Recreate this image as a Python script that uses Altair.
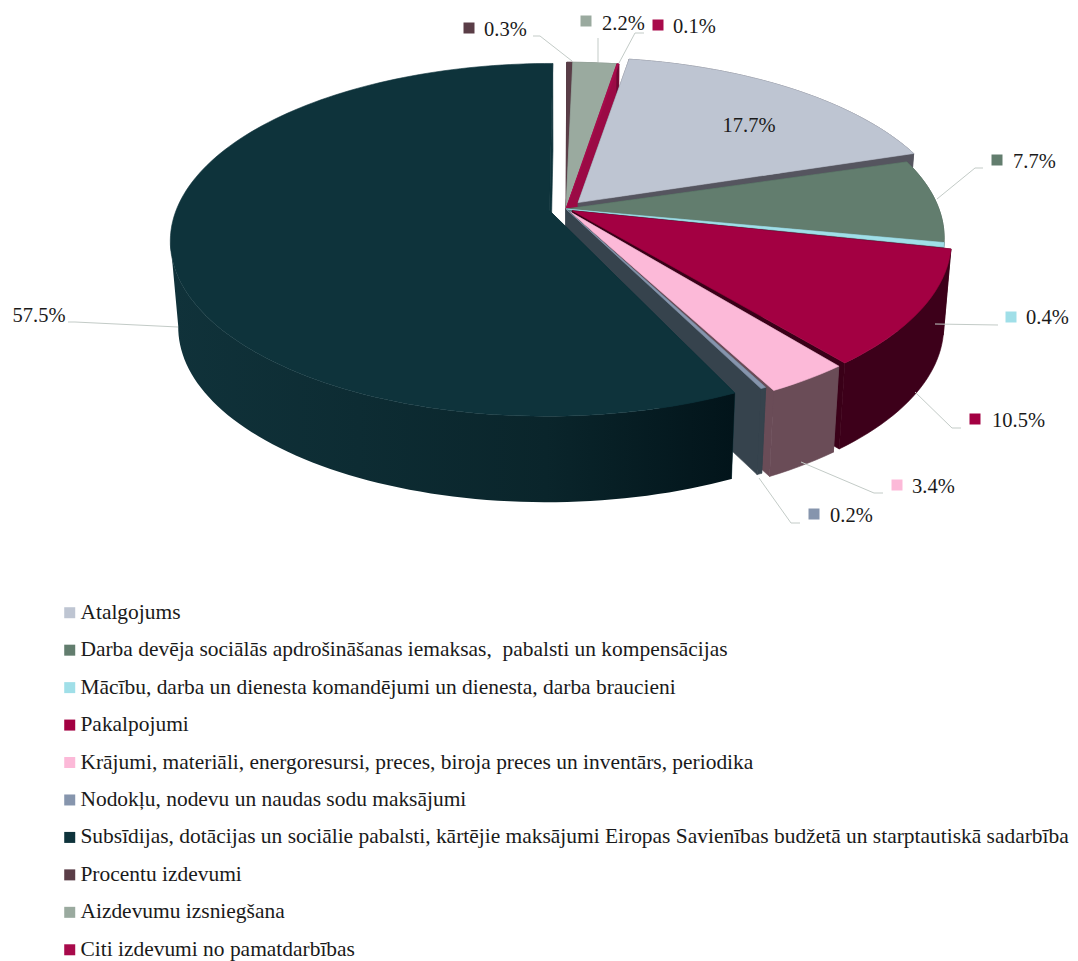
import math
import altair as alt
import pandas as pd

categories = [
    "Atalgojums",
    "Darba devēja sociālās apdrošināšanas iemaksas,\u00a0 pabalsti un kompensācijas",
    "Mācību, darba un dienesta komandējumi un dienesta, darba braucieni",
    "Pakalpojumi",
    "Krājumi, materiāli, energoresursi, preces, biroja preces un inventārs, periodika",
    "Nodokļu, nodevu un naudas sodu maksājumi",
    "Subsīdijas, dotācijas un sociālie pabalsti, kārtējie maksājumi Eiropas Savienības budžetā un starptautiskā sadarbība",
    "Procentu izdevumi",
    "Aizdevumu izsniegšana",
    "Citi izdevumi no pamatdarbības",
]
values = [17.7, 7.7, 0.4, 10.5, 3.4, 0.2, 57.5, 0.3, 2.2, 0.1]
labels = ["17.7%", "7.7%", "0.4%", "10.5%", "3.4%", "0.2%", "57.5%", "0.3%", "2.2%", "0.1%"]
top_colors = ["#bec5d2", "#627d6e", "#a0dfe8", "#a30042", "#fcb9d8", "#8695ad", "#0e333b", "#5a3d47", "#9aaa9f", "#a80a4b"]
cut_colors = ["#55555f", "#4a5f55", "#5a7a80", "#3a0018", "#6a4c57", "#36434d", "#0e333b", "#3e2a31", "#74807a", "#9b0a45"]
wall_colors = ["#55555f", "#43564b", "#6f9ca2", "#3d001a", "#6a4c57", "#36434d", "#0e333b", "#3e2a31", "#6c7770", "#6f0832"]
explode = [0.05, 0.0, 0.0, 0.02, 0.02, 0.0, 0.045, 0.0, 0.0, 0.0]
start_nudge = [0, 0, 0, 0, 1.2, 0.4, 1.5, 0, 0, 0]
end_nudge = [-1.0, 0, 0, 0.5, 0, 0.4, 0, 0, 0, 0]
paint_order = [7, 8, 9, 0, 1, 2, 3, 4, 5, 6]
main_wall_stops = ["#10323a", "#0d2c33", "#0a252b", "#02141a"]

key_x = [None, 997, 1011, 975, 897, 814, None, 469, 586, 658]
key_y = [None, 160, 317, 419, 485, 514, None, 28, 21, 25]
text_x = [749, 1013, 1026, 992, 912, 830, 39, 484, 602, 673]
text_y = [132, 168, 324, 427, 493, 522, 322, 36, 30, 33]
leaders = {
    "0.3": [(533, 36), (540, 36), (572, 61)],
    "2.2": [(598, 38), (598, 62)],
    "0.1": [(644, 33), (635, 33), (619, 63)],
    "7.7": [(983, 168), (975, 168), (937, 199)],
    "0.4": [(998, 325), (935, 324)],
    "10.5": [(961, 428), (952, 428), (915, 392)],
    "3.4": [(883, 493), (874, 493), (801, 462)],
    "0.2": [(800, 523), (791, 523), (759, 478)],
    "57.5": [(68, 322), (75, 322), (178, 327)],
}

# Perspective disc: angles clockwise from the top
CX, CY, A, B, K = 566.0, 209.0, 373.0, 171.0, 0.165
START, DEPTH, SHRINK = 9.5, 86.0, 0.98


def project(phi, r, e, mid, bottom=False):
    p, m = math.radians(phi), math.radians(mid)
    u = r * math.sin(p) + e * math.sin(m)
    v = -r * math.cos(p) - e * math.cos(m)
    d = 1 - K * v
    x, y = A * u / d, B * v / d
    if bottom:
        return CX + x * SHRINK, CY + y + DEPTH
    return CX + x, CY + y


def arc(a, b, step=1.5):
    n = max(2, int(abs(b - a) / step) + 1)
    return [a + (b - a) * i / (n - 1) for i in range(n)]


rows_by_slice = {}
main_wall = []
cum = START
for i, val in enumerate(values):
    a0, a1 = cum + start_nudge[i], cum + val * 3.6 + end_nudge[i]
    cum += val * 3.6
    mid = (a0 + a1) / 2
    e = explode[i]
    rows = []

    def poly(target, name, pts, color):
        closed = pts + pts[:1]
        for j, (x, y) in enumerate(closed):
            target.append({"px": x, "py": y, "part": name, "idx": j, "c": color})

    for side, phi in (("cutA", a0), ("cutB", a1)):
        poly(rows, side, [project(phi, 0, e, mid), project(phi, 1, e, mid),
                          project(phi, 1, e, mid, True), project(phi, 0, e, mid, True)], cut_colors[i])
    angs = arc(a0, a1)
    if i == 6:
        # the wall only needs to reach the left-hand silhouette of the disc
        wall_angs = angs[: min(range(len(angs)), key=lambda n: project(angs[n], 1, e, mid)[0]) + 1]
        wall_pts = [project(p, 1, e, mid) for p in wall_angs] + [project(p, 1, e, mid, True) for p in reversed(wall_angs)]
        poly(main_wall, "wall", wall_pts, wall_colors[i])
    else:
        wall_pts = [project(p, 1, e, mid) for p in angs] + [project(p, 1, e, mid, True) for p in reversed(angs)]
        poly(rows, "wall", wall_pts, wall_colors[i])
    poly(rows, "top", [project(0, 0, e, mid)] + [project(p, 1, e, mid) for p in angs], top_colors[i])
    rows_by_slice[i] = pd.DataFrame(rows)

X = alt.X("px:Q", scale=alt.Scale(domain=[8, 1070], nice=False, zero=False), axis=None)
Y = alt.Y("py:Q", scale=alt.Scale(domain=[961, 8], nice=False, zero=False), axis=None)


def faces(df):
    return alt.Chart(df).mark_line(strokeWidth=0.6, interpolate="linear").encode(
        x=X, y=Y, detail="part:N", order="idx:Q",
        fill=alt.Fill("c:N", scale=None),
        stroke=alt.Stroke("c:N", scale=None),
    )


layers = []
for i in paint_order:
    if i == 6:
        df = rows_by_slice[i]
        layers.append(faces(df[df.part != "top"]))
        grad = alt.Gradient(
            gradient="linear", x1=0, x2=1, y1=0, y2=0,
            stops=[alt.GradientStop(color=c, offset=k / (len(main_wall_stops) - 1))
                   for k, c in enumerate(main_wall_stops)],
        )
        layers.append(
            alt.Chart(pd.DataFrame(main_wall)).mark_line(fill=grad, stroke=None, interpolate="linear").encode(
                x=X, y=Y, order="idx:Q"
            )
        )
        layers.append(faces(df[df.part == "top"]))
    else:
        layers.append(faces(rows_by_slice[i]))

leader_rows = []
for name, pts in leaders.items():
    for j, (x, y) in enumerate(pts):
        leader_rows.append({"px": x, "py": y, "name": name, "idx": j})
layers.append(
    alt.Chart(pd.DataFrame(leader_rows)).mark_line(stroke="#c3cbc7", strokeWidth=1).encode(
        x=X, y=Y, detail="name:N", order="idx:Q"
    )
)

key_df = pd.DataFrame({"px": key_x, "py": key_y, "cat": categories}).dropna()
layers.append(
    alt.Chart(key_df).mark_square(size=121, opacity=1).encode(
        x=X, y=Y,
        fill=alt.Fill(
            "cat:N",
            scale=alt.Scale(domain=categories, range=top_colors),
            legend=alt.Legend(
                orient="none", legendX=51, legendY=594, title=None, direction="vertical", columns=1,
                symbolType="square", symbolSize=121, symbolStrokeWidth=0, symbolOpacity=1,
                labelFont="Liberation Serif", labelFontSize=21.45, labelColor="#1a1a1a",
                labelLimit=1100, labelOffset=0, rowPadding=14.45, padding=0,
            ),
        ),
    )
)

text_df = pd.DataFrame({"px": text_x, "py": text_y, "t": labels})
text_df["a"] = ["center" if t in ("17.7%", "57.5%") else "left" for t in labels]
for align in ("center", "left"):
    layers.append(
        alt.Chart(text_df[text_df.a == align]).mark_text(
            font="Liberation Serif", fontSize=20.5, color="#1a1a1a", align=align, baseline="alphabetic"
        ).encode(x=X, y=Y, text="t:N")
    )

chart = alt.layer(*layers).properties(
    width=1062, height=953, padding=0, background="white",
    autosize=alt.AutoSizeParams(type="none"),
).configure_view(stroke=None)

chart.save("out.html", embed_options={"renderer": "svg", "actions": False})
